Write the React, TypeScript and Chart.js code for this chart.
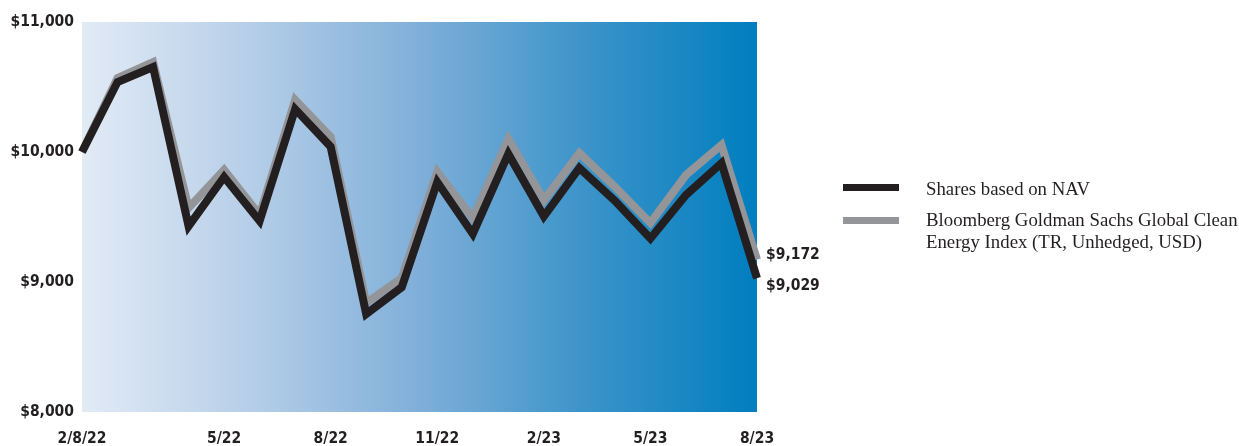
import React, { useEffect, useRef } from "react";
import { Chart, registerables } from "chart.js";

Chart.register(...registerables);

const labels = ["2/8/22", "2/22", "3/22", "4/22", "5/22", "6/22", "7/22", "8/22", "9/22", "10/22", "11/22", "12/22", "1/23", "2/23", "3/23", "4/23", "5/23", "6/23", "7/23", "8/23"];
const shownTicks = ["2/8/22", "5/22", "8/22", "11/22", "2/23", "5/23", "8/23"];
const navValues = [10000, 10538, 10654, 9430, 9808, 9470, 10330, 10040, 8754, 8960, 9769, 9370, 9985, 9505, 9877, 9625, 9335, 9669, 9915, 9029];
const indexValues = [10000, 10569, 10692, 9570, 9862, 9515, 10400, 10115, 8838, 9030, 9846, 9490, 10100, 9630, 9992, 9731, 9454, 9823, 10054, 9172];
const yTicks = [8000, 9000, 10000, 11000];
const seriesNames = ["Shares based on NAV", "Bloomberg Goldman Sachs Global Clean Energy Index (TR, Unhedged, USD)"];
const endLabels = ["$9,029", "$9,172"];

const BOLD_FONT = "'Liberation Sans Narrow', 'DejaVu Sans Condensed', 'Arial Narrow', sans-serif";
const TEXT = "#231f20";
const NAV_COLOR = "#231f20";
const IDX_COLOR = "#939598";
const TICK_SIZE = 15.5;

const fmt = (v: number) => "$" + v.toLocaleString("en-US");

const bgPlugin = {
  id: "bgGradient",
  beforeDatasetsDraw(chart: any) {
    const { ctx, chartArea } = chart;
    const { left, right, top, bottom } = chartArea;
    const g = ctx.createLinearGradient(left, 0, right, 0);
    g.addColorStop(0, "#e2ebf6");
    g.addColorStop(0.25, "#b6cee8");
    g.addColorStop(0.5, "#7fafd9");
    g.addColorStop(0.75, "#3b93c9");
    g.addColorStop(1, "#007ebf");
    ctx.save();
    ctx.fillStyle = g;
    ctx.fillRect(left, top, right - left, bottom - top);
    ctx.restore();
  },
};

const endLabelPlugin = {
  id: "endLabels",
  afterDatasetsDraw(chart: any) {
    const { ctx } = chart;
    const xs = chart.scales.x;
    const ys = chart.scales.y;
    const last = labels.length - 1;
    const x = xs.getPixelForValue(last) + 9;
    ctx.save();
    ctx.font = `bold ${TICK_SIZE}px ${BOLD_FONT}`;
    ctx.fillStyle = TEXT;
    ctx.textAlign = "left";
    ctx.textBaseline = "middle";
    ctx.fillText(endLabels[1], x, ys.getPixelForValue(indexValues[last]) - 5);
    ctx.fillText(endLabels[0], x, ys.getPixelForValue(navValues[last]) + 8);
    ctx.restore();
  },
};

export default function App() {
  const ref = useRef<HTMLCanvasElement>(null);
  useEffect(() => {
    if (!ref.current) return;
    const chart = new Chart(ref.current, {
      type: "line",
      data: {
        labels,
        datasets: [
          {
            label: seriesNames[0],
            data: navValues,
            borderColor: NAV_COLOR,
            borderWidth: 8,
            pointRadius: 0,
            tension: 0,
            borderJoinStyle: "miter",
            fill: false,
          },
          {
            label: seriesNames[1],
            data: indexValues,
            borderColor: IDX_COLOR,
            borderWidth: 8,
            pointRadius: 0,
            tension: 0,
            borderJoinStyle: "miter",
            fill: false,
          },
        ],
      },
      options: {
        animation: false,
        responsive: false,
        devicePixelRatio: 1,
        layout: { padding: { left: 0, right: 482, top: 22, bottom: 0 } },
        plugins: { legend: { display: false }, tooltip: { enabled: false } },
        scales: {
          x: {
            type: "category",
            offset: false,
            grid: { display: false, drawTicks: false },
            border: { display: false },
            afterFit: (s: any) => { s.height = 34; },
            ticks: {
              autoSkip: false,
              maxRotation: 0,
              padding: 18,
              color: TEXT,
              font: { family: BOLD_FONT, size: TICK_SIZE, weight: "bold" },
              callback: (_v: any, i: number) => (shownTicks.includes(labels[i]) ? labels[i] : ""),
            },
          },
          y: {
            min: 8000,
            max: 11000,
            grid: { display: false, drawTicks: false },
            border: { display: false },
            afterFit: (s: any) => { s.width = 82; },
            afterBuildTicks: (s: any) => { s.ticks = yTicks.map((v) => ({ value: v })); },
            ticks: {
              padding: 8,
              color: TEXT,
              font: { family: BOLD_FONT, size: TICK_SIZE, weight: "bold" },
              callback: (v: any) => fmt(Number(v)),
            },
          },
        },
      },
      plugins: [bgPlugin, endLabelPlugin],
    } as any);
    return () => chart.destroy();
  }, []);

  const legendText: React.CSSProperties = {
    position: "absolute",
    left: 926,
    fontFamily: "'Liberation Serif', 'Times New Roman', serif",
    fontSize: 18.8,
    lineHeight: "22px",
    color: TEXT,
    whiteSpace: "nowrap",
  };

  return (
    <div style={{ position: "absolute", left: 0, top: 0, width: 1239, height: 446, background: "#fff" }}>
      <canvas ref={ref} width={1239} height={446} style={{ position: "absolute", left: 0, top: 0 }} />
      <div style={{ position: "absolute", left: 843, top: 184, width: 56, height: 7, background: NAV_COLOR }} />
      <div style={{ ...legendText, top: 178 }}>{seriesNames[0]}</div>
      <div style={{ position: "absolute", left: 843, top: 217, width: 56, height: 7, background: IDX_COLOR }} />
      <div style={{ ...legendText, top: 209 }}>
        Bloomberg Goldman Sachs Global Clean
        <br />
        Energy Index (TR, Unhedged, USD)
      </div>
    </div>
  );
}
